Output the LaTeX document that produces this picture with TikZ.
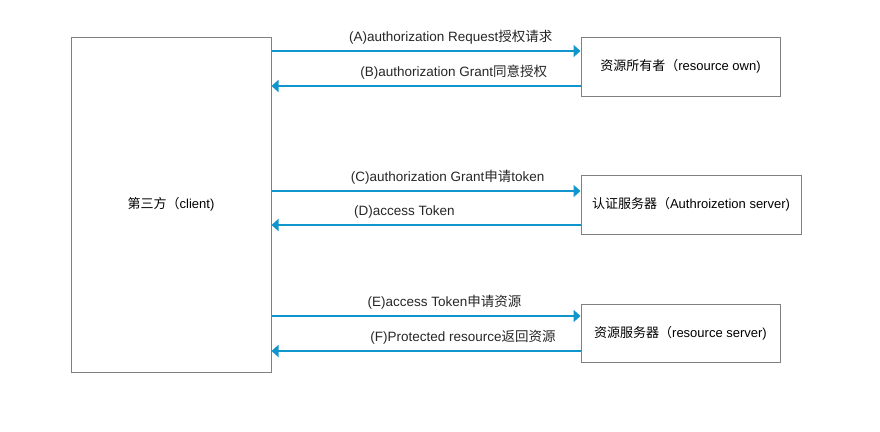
\documentclass[tikz,border=0pt]{standalone}
\usepackage{fontspec}
\setmainfont{Liberation Sans}
\newfontfamily\cjk{Noto Sans CJK SC}
\usetikzlibrary{arrows.meta}
\definecolor{flowblue}{RGB}{16,150,204}
\definecolor{boxgray}{RGB}{128,128,128}
\tikzset{
  box/.style={draw=boxgray,line width=1pt,minimum height=59pt,inner sep=0pt,font=\fontsize{13}{15}\selectfont},
  flow/.style={draw=flowblue,line width=2pt,-{Triangle[length=7pt,width=12pt]}},
  lbl/.style={font=\fontsize{13.5}{15}\selectfont,text=black!85,above=4pt,inner sep=2pt}
}
\begin{document}
\begin{tikzpicture}[x=1pt,y=-1pt]
\useasboundingbox (0,0) rectangle (880,431);
\node[box,minimum width=200pt,minimum height=335pt] (client) at (171,204.5) {{\cjk 第三方（}client)};
\node[box,minimum width=199pt] (owner) at (680.5,66.5) {{\cjk 资源所有者（}resource own)};
\node[box,minimum width=220pt] (authsrv) at (691,204.5) {{\cjk 认证服务器（}Authroizetion server)};
\node[box,minimum width=199pt,minimum height=58pt] (ressrv) at (680.5,333) {{\cjk 资源服务器（}resource server)};
\coordinate (a) at ([yshift=15.5pt]owner.west); \coordinate (b) at ([yshift=-19.5pt]owner.west);
\coordinate (c) at ([yshift=13.5pt]authsrv.west); \coordinate (d) at ([yshift=-20.5pt]authsrv.west);
\coordinate (e) at ([yshift=17pt]ressrv.west); \coordinate (f) at ([yshift=-18pt]ressrv.west);
\draw[flow] (client.east |- a) -- (a) node[lbl,pos=.58] (la) {(A)authorization Request{\cjk 授权请求}};
\draw[flow] (b) -- (client.east |- b) node[lbl,pos=.41] (lb) {(B)authorization Grant{\cjk 同意授权}};
\draw[flow] (client.east |- c) -- (c) node[lbl,pos=.57] (lc) {(C)authorization Grant{\cjk 申请}token};
\draw[flow] (d) -- (client.east |- d) node[lbl,pos=.57] (ld) {(D)access Token};
\draw[flow] (client.east |- e) -- (e) node[lbl,pos=.56] (le) {(E)access Token{\cjk 申请资源}};
\draw[flow] (f) -- (client.east |- f) node[lbl,pos=.38] (lf) {(F)Protected resource{\cjk 返回资源}};
\end{tikzpicture}
\end{document}
